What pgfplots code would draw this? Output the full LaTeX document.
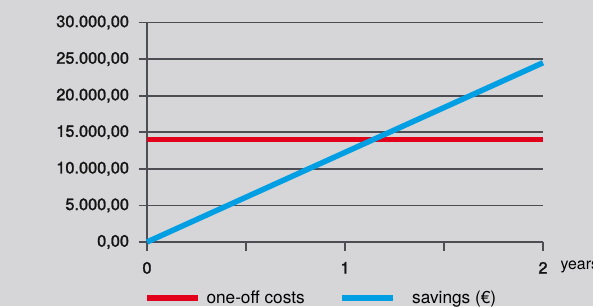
\documentclass[border=0pt]{standalone}
\usepackage{fontspec}
\setmainfont{TeX Gyre Heros}
\newfontfamily\tickfont[FakeBold=1.5]{TeX Gyre Heros}
\usepackage{pgfplots}
\pgfplotsset{compat=1.18}
\definecolor{bgc}{RGB}{214,214,216}
\definecolor{gridc}{RGB}{77,77,84}
\definecolor{myred}{RGB}{226,0,26}
\definecolor{myblue}{RGB}{0,159,227}
\begin{document}
\begin{tikzpicture}[x=1bp,y=1bp]
\useasboundingbox (0,0) rectangle (593,306);
\fill[bgc] (0,0) rectangle (593,306);
\begin{axis}[
 at={(147bp,64bp)}, anchor=south west,
 scale only axis, width=396bp, height=219.5bp,
 xmin=0, xmax=2, ymin=0, ymax=30000,
 axis lines*=left, clip=false,
 axis line style={gridc, line width=1.8bp},
 every tick/.style={gridc, line width=1.8bp},
 tick align=outside, major tick length=8.5bp,
 xtick={0,0.5,1,1.5,2}, xticklabels={0,,1,,2},
 ytick={0,5000,...,30000},
 scaled y ticks=false,
 ymajorgrids, major grid style={gridc, line width=1.8bp},
 tick label style={font=\tickfont\fontsize{16.4}{16.4}\selectfont, text=black!92},
 yticklabel style={xshift=-6bp, /pgf/number format/fixed, /pgf/number format/fixed zerofill, /pgf/number format/precision=2, /pgf/number format/1000 sep={.}, /pgf/number format/dec sep={,}, /pgf/number format/assume math mode=true},
 xticklabel style={yshift=-8bp},
 xlabel={years},
 x label style={at={(axis description cs:1,0)}, anchor=base west, xshift=14bp, yshift=-27.7bp, font=\fontsize{16}{16}\selectfont},
 legend style={at={(0,0)}, anchor=north west, xshift=-3bp, yshift=-49bp, draw=none, fill=none, font=\fontsize{17.3}{17.3}\selectfont, inner sep=0pt, outer sep=0pt, nodes={inner sep=0pt}, /tikz/every odd column/.append style={column sep=6bp}, /tikz/every even column/.append style={column sep=35bp}},
 legend columns=2,
 legend image code/.code={\draw[#1] (0bp,0bp) -- (51bp,0bp);},
]
\addplot[myred, line width=5.5bp] coordinates {(0,14000) (2,14000)};
\addlegendentry{one-off costs}
\addplot[myblue, line width=5.5bp] coordinates {(0,0) (2,24500)};
\addlegendentry{\hspace{10bp}savings (€)}
\end{axis}
\end{tikzpicture}
\end{document}
